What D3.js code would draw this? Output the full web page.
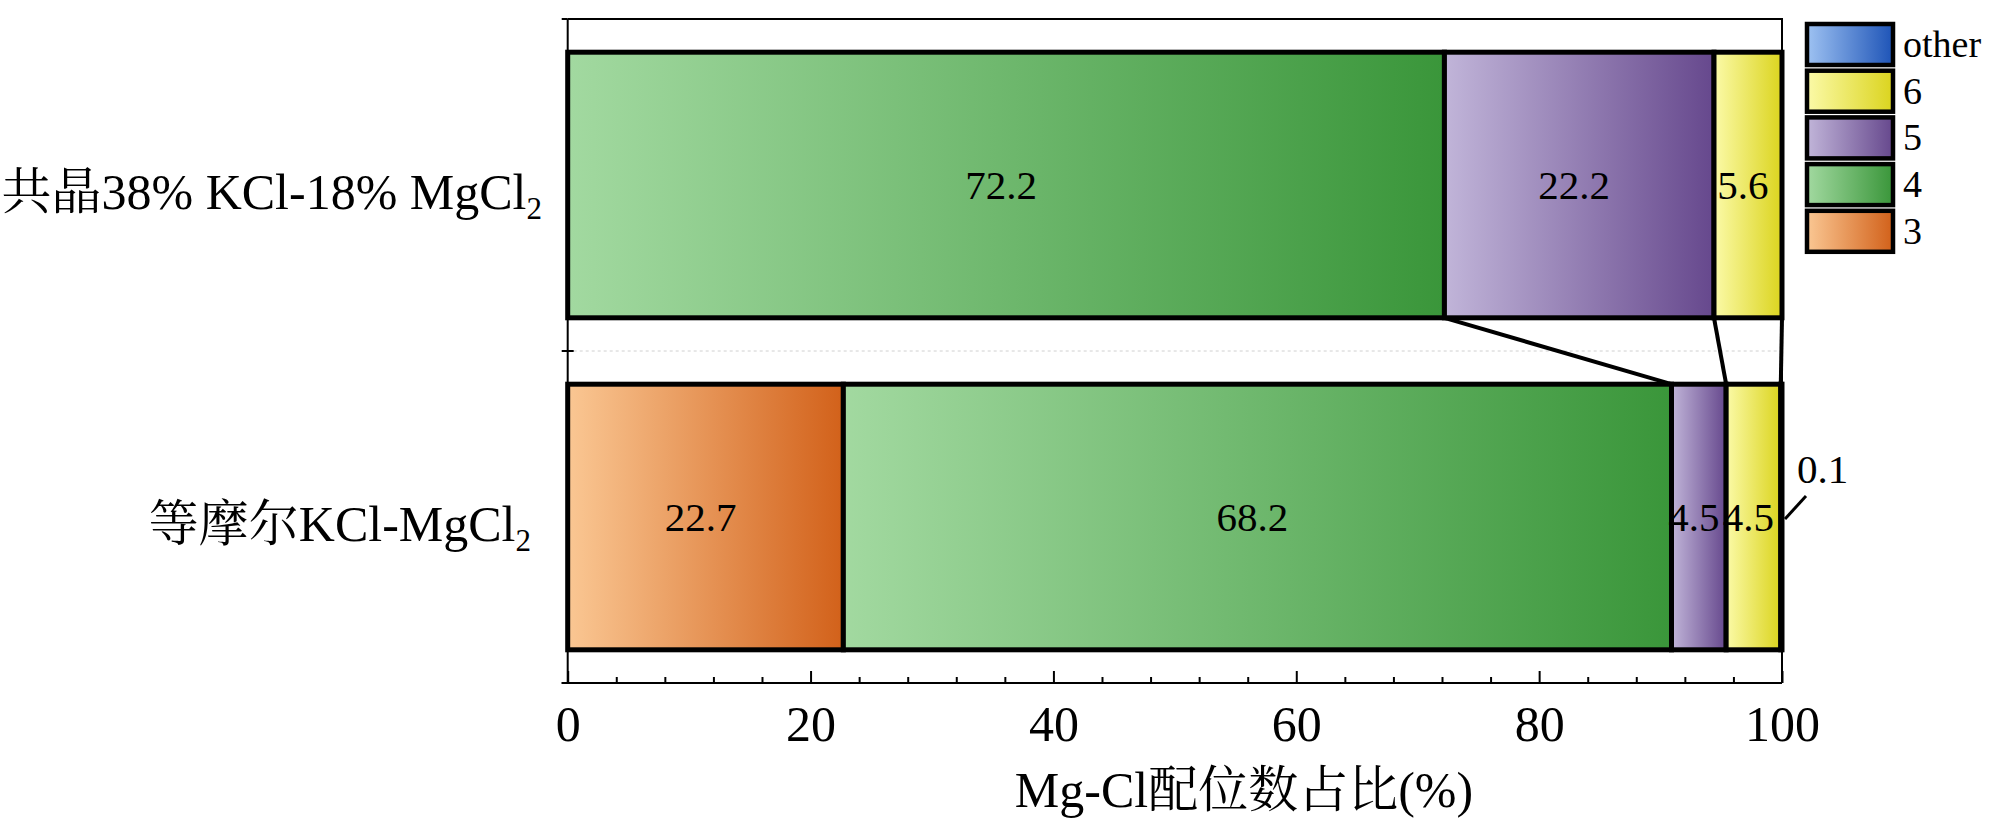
<!DOCTYPE html>
<html>
<head>
<meta charset="utf-8">
<script src="https://cdn.jsdelivr.net/npm/d3@7"></script>
<style>
	body { margin: 0; background: #fff; }
	svg text { font-family: "Liberation Serif", "Times New Roman", "Noto Serif CJK SC", "Noto Sans CJK SC", serif; fill: #000; }
</style>
</head>
<body>
<svg id="chart" width="2000" height="837"></svg>
<script>

// categories (top to bottom) and series, values in %
var categories = ["共晶38% KCl-18% MgCl2", "等摩尔KCl-MgCl2"];
var seriesKeys = ["3", "4", "5", "6", "other"];
var eutecticValues = [0, 72.2, 22.2, 5.6, 0];
var equimolarValues = [22.7, 68.2, 4.5, 4.5, 0.1];
var xTicks = [0, 20, 40, 60, 80, 100];

// light -> dark gradient for each series
var gradStops = {
	"3": ["#fac793", "#d2611a"],
	"4": ["#a2d9a0", "#3a963a"],
	"5": ["#c1b5d9", "#66488d"],
	"6": ["#fbfaa8", "#dbd41e"],
	"other": ["#9ec2f2", "#1e54b7"]
};

var fontFam = "'Liberation Serif', 'Times New Roman', 'Noto Sans CJK SC', serif";

var svg = d3.select("#chart");

var x = d3.scaleLinear().domain([0, 100]).range([567.7, 1782]);
var y = d3.scaleBand().domain(categories).range([19, 683]).paddingInner(0.2).paddingOuter(0.1);

var rows = [eutecticValues, equimolarValues].map(function(vals, i)
{
	var r = { cat: categories[i] };
	seriesKeys.forEach(function(k, j) { r[k] = vals[j]; });
	return r;
});

var stacked = d3.stack().keys(seriesKeys)(rows);

// gradients
var defs = svg.append("defs");
seriesKeys.forEach(function(k, i)
{
	var g = defs.append("linearGradient")
		.attr("id", "grad" + i)
		.attr("x1", 0).attr("x2", 1).attr("y1", 0).attr("y2", 0);
	g.append("stop").attr("offset", "0%").attr("stop-color", gradStops[k][0]);
	g.append("stop").attr("offset", "100%").attr("stop-color", gradStops[k][1]);
});

// dotted grid line between categories
var boundaryY = [y.range()[0], (y(categories[0]) + y.bandwidth() + y(categories[1])) / 2, y.range()[1]];

svg.append("line")
	.attr("x1", x(0)).attr("x2", x(100))
	.attr("y1", boundaryY[1]).attr("y2", boundaryY[1])
	.attr("stroke", "#d0d0d0").attr("stroke-width", 1)
	.attr("stroke-dasharray", "3,3");

// frame
svg.append("path")
	.attr("d", "M" + x(0) + "," + boundaryY[0] + "H" + x(100) + "V" + boundaryY[2])
	.attr("fill", "none").attr("stroke", "#000").attr("stroke-width", 2);

// x axis, major and minor ticks pointing inward
var xAxis = svg.append("g")
	.attr("transform", "translate(0," + boundaryY[2] + ")")
	.attr("font-family", fontFam)
	.call(d3.axisBottom(x).tickValues(xTicks).tickSizeInner(-12).tickSizeOuter(0).tickPadding(22));

xAxis.attr("font-family", fontFam);
xAxis.select(".domain").attr("stroke-width", 2).attr("d", "M" + (x(0) - 6) + ",0H" + x(100));
xAxis.selectAll(".tick line").attr("stroke-width", 2);
xAxis.selectAll(".tick text").attr("font-size", 50).attr("font-family", fontFam).attr("dy", "0.71em");

var minor = d3.range(4, 100, 4).filter(function(v) { return v % 20 !== 0; });
svg.append("g")
	.attr("transform", "translate(0," + boundaryY[2] + ")")
	.call(d3.axisBottom(x).tickValues(minor).tickSize(-6).tickFormat(""))
	.call(function(g)
	{
		g.select(".domain").remove();
		g.selectAll(".tick line").attr("stroke-width", 2);
	});

// y axis line and boundary ticks
svg.append("line")
	.attr("x1", x(0)).attr("x2", x(0))
	.attr("y1", boundaryY[0]).attr("y2", boundaryY[2])
	.attr("stroke", "#000").attr("stroke-width", 2);

svg.selectAll(".ytick")
	.data(boundaryY)
	.enter()
	.append("line")
	.attr("class", "ytick")
	.attr("x1", x(0) - 6)
	.attr("x2", function(d, i) { return i === 1 ? x(0) + 6 : x(0); })
	.attr("y1", function(d) { return d; })
	.attr("y2", function(d) { return d; })
	.attr("stroke", "#000").attr("stroke-width", 2);

// category labels with subscript 2
var labelRight = [542, 531];
categories.forEach(function(c, i)
{
	var t = svg.append("text")
		.attr("x", labelRight[i])
		.attr("y", y(c) + y.bandwidth() / 2 + 24)
		.attr("text-anchor", "end")
		.attr("font-family", fontFam)
		.attr("font-size", 50);
	t.append("tspan").text(c.slice(0, -1));
	t.append("tspan").attr("font-size", 31).attr("dy", 10).text(c.slice(-1));
});

// connector lines between stacks
stacked.forEach(function(s, i)
{
	var top = s[0], bot = s[1];
	if (top[1] - top[0] <= 0 || i === seriesKeys.length - 1) return;
	svg.append("line")
		.attr("x1", x(top[1])).attr("y1", y(categories[0]) + y.bandwidth())
		.attr("x2", x(bot[1])).attr("y2", y(categories[1]))
		.attr("stroke", "#000").attr("stroke-width", 4);
});

// bars
var layer = svg.selectAll(".layer")
	.data(stacked)
	.enter()
	.append("g")
	.attr("class", "layer")
	.attr("fill", function(d, i) { return "url(#grad" + i + ")"; });

layer.selectAll("rect")
	.data(function(d) { return d.filter(function(p) { return p[1] - p[0] > 0; }); })
	.enter()
	.append("rect")
	.attr("x", function(d) { return x(d[0]); })
	.attr("y", function(d) { return y(d.data.cat); })
	.attr("width", function(d) { return x(d[1]) - x(d[0]); })
	.attr("height", y.bandwidth())
	.attr("stroke", "#000")
	.attr("stroke-width", 5);

// value labels
stacked.forEach(function(s)
{
	s.forEach(function(p)
	{
		var v = p[1] - p[0];
		if (v <= 0) return;
		var cy = y(p.data.cat) + y.bandwidth() / 2;
		var txt = d3.format(".1f")(v);
		if (v >= 1)
		{
			svg.append("text")
				.attr("x", (x(p[0]) + x(p[1])) / 2 - 5)
				.attr("y", cy + 14)
				.attr("text-anchor", "middle")
				.attr("font-family", fontFam)
				.attr("font-size", 41)
				.text(txt);
		}
		else
		{
			var ex = x(p[1]);
			svg.append("line")
				.attr("x1", ex + 3).attr("y1", cy + 2)
				.attr("x2", ex + 24).attr("y2", cy - 21)
				.attr("stroke", "#000").attr("stroke-width", 3);
			svg.append("text")
				.attr("x", ex + 15)
				.attr("y", cy - 34)
				.attr("font-family", fontFam)
				.attr("font-size", 41)
				.text(txt);
		}
	});
});

// x axis title
svg.append("text")
	.attr("x", 1244)
	.attr("y", 807)
	.attr("text-anchor", "middle")
	.attr("font-family", fontFam)
	.attr("font-size", 50)
	.text("Mg-Cl配位数占比(%)");

// legend, "other" on top
var legendKeys = seriesKeys.slice().reverse();
var legend = svg.selectAll(".legend")
	.data(legendKeys)
	.enter()
	.append("g")
	.attr("class", "legend")
	.attr("transform", function(d, i) { return "translate(1807," + (24 + i * 46.7) + ")"; });

legend.append("rect")
	.attr("width", 86).attr("height", 41)
	.attr("fill", function(d) { return "url(#grad" + seriesKeys.indexOf(d) + ")"; })
	.attr("stroke", "#000").attr("stroke-width", 4.5);

legend.append("text")
	.attr("x", 96)
	.attr("y", 33)
	.attr("font-family", fontFam)
	.attr("font-size", 38)
	.text(function(d) { return d; });

</script>
</body>
</html>
